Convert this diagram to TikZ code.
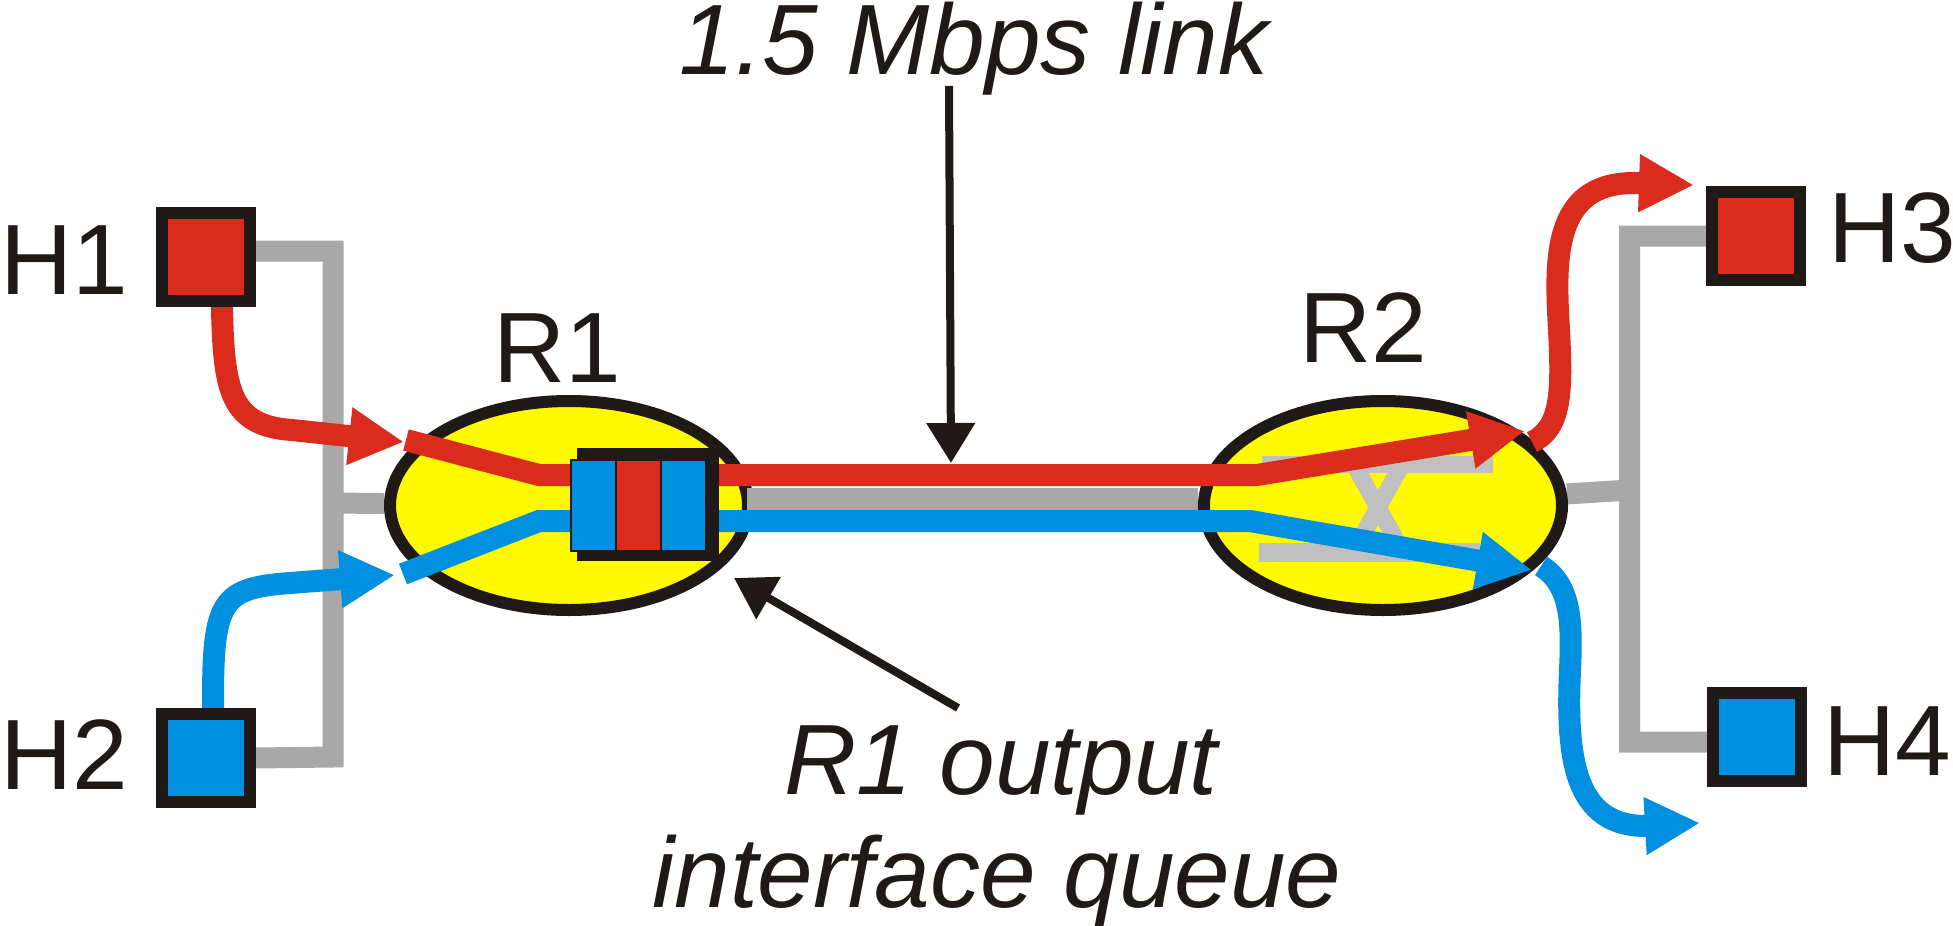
\documentclass[tikz,border=0pt]{standalone}
\usepackage{fontspec}
\setmainfont{Liberation Sans}
\usetikzlibrary{arrows.meta,shapes.geometric}
\pgfdeclarelayer{lbus}
\pgfdeclarelayer{lrouter}
\pgfdeclarelayer{lflow}
\pgfsetlayers{lbus,lrouter,lflow,main}
\definecolor{cred}{HTML}{DB2B1C}
\definecolor{cblue}{HTML}{0090DF}
\definecolor{cgray}{HTML}{A8A8A8}
\definecolor{cxgray}{HTML}{C0C0C0}
\definecolor{cyel}{HTML}{FFFA00}
\definecolor{cblk}{HTML}{1F1A17}
\begin{document}
\begin{tikzpicture}[x=0.4pt,y=-0.4pt,
  host/.style={rectangle,draw=cblk,line width=4.8pt,minimum size=35.2pt,inner sep=0pt},
  router/.style={ellipse,draw=cblk,fill=cyel,line width=4.8pt,minimum width=143.2pt,minimum height=83.6pt,inner sep=0pt},
  lbl/.style={font=\fontsize{40}{48}\selectfont,inner sep=0pt,text=cblk},
  ilbl/.style={font=\fontsize{40}{48}\selectfont\itshape,inner sep=0pt,text=cblk},
  bus/.style={cgray,line width=8.4pt},
  flowr/.style={cred,line width=8.8pt,-{Triangle[length=22pt,width=21.6pt]}},
  flowb/.style={cblue,line width=8.8pt,-{Triangle[length=22pt,width=21.6pt]}},
  ptr/.style={cblk,line width=3.2pt,-{Triangle[length=16pt,width=18.8pt]}},
  cell/.style={rectangle,draw=cblk,line width=0.6pt,minimum width=18pt,minimum height=36.4pt,inner sep=0pt}
]
\useasboundingbox (0,0) rectangle (1953,926);

% routers
\begin{pgfonlayer}{lrouter}
\node[router] (r1) at (569,505.5) {};
\node[router] (r2) at (1383,505.5) {};
% switch fabric symbol in R2
\fill[cxgray] (1262,456) rectangle (1493,473);
\fill[cxgray] (1259,543) rectangle (1480,562);
\draw[cxgray,line width=6.8pt] (1356,468) -- (1400,547) (1400,468) -- (1356,547);
% link between routers
\fill[cgray] (747,488) rectangle (1198,511);
\end{pgfonlayer}

% hosts
\node[host,fill=cred]  (h1) at (206,257) {};
\node[host,fill=cblue] (h2) at (206,758) {};
\node[host,fill=cred]  (h3) at (1756,236) {};
\node[host,fill=cblue] (h4) at (1757,737) {};

% labels
\node[lbl,anchor=base west] (h1l) at (0,294) {H1};
\node[lbl,anchor=base west] (h2l) at (0,789) {H2};
\node[lbl,anchor=base west] (h3l) at (1828,262) {H3};
\node[lbl,anchor=base west] (h4l) at (1823,775) {H4};
\node[lbl,anchor=base] (r1l) at (557,382) {R1};
\node[lbl,anchor=base] (r2l) at (1363,362) {R2};
\node[ilbl,anchor=base] (lnk) at (974,75) {1.5 Mbps link};
\node[ilbl,anchor=base] (q1l) at (1001,794) {R1 output};
\node[ilbl,anchor=base] (q2l) at (997,907) {interface queue};

% buses
\coordinate (lbt) at (333,251);
\coordinate (lbb) at (333,757);
\coordinate (lbm) at (333,503);
\coordinate (rbt) at (1629.5,236);
\coordinate (rbb) at (1629.5,742);
\coordinate (rbm) at (1629.5,490);
\begin{pgfonlayer}{lbus}
\draw[bus] ([yshift=2.4pt]h1.east) -- (lbt) -- (lbb) -- (h2.east);
\draw[bus] (lbm) -- (r1);
\draw[bus] (h3.west) -- (rbt) -- (rbb) -- ([yshift=-2pt]h4.west);
\draw[bus] (rbm) -- (r2);
\end{pgfonlayer}

% flows
\coordinate (ra) at (406,440);
\coordinate (rb) at (539,475);
\coordinate (rc) at (1257,475);
\coordinate (rd) at (1525,431);
\coordinate (ba) at (403,574);
\coordinate (bb) at (539,521);
\coordinate (bc) at (1250,521);
\coordinate (bd) at (1532,570);
\begin{pgfonlayer}{lflow}
\draw[flowr] ([xshift=6.4pt]h1.center) -- (222,310) .. controls (224,390) and (230,426) .. (292,430) -- (404,442);
\draw[flowb] ([xshift=2.8pt]h2.center) -- (213,700) .. controls (213,600) and (222,588) .. (290,583) -- (395,575);
\draw[flowr] (ra) -- (rb) -- (rc) -- (rd);
\draw[flowb] (ba) -- (bb) -- (bc) -- (bd);
\draw[flowr] (1532,442) .. controls (1562,428) and (1562,390) .. (1559,330) .. controls (1555,260) and (1552,183) .. (1634,183) -- (1694,185);
\draw[flowb] (1541,566) .. controls (1572,585) and (1572,625) .. (1570,670) .. controls (1566,760) and (1575,826) .. (1646,826) -- (1700,823);
\end{pgfonlayer}

% output queue
\node[fill=cblk,minimum width=56.8pt,minimum height=45.2pt,inner sep=0pt] (qbox) at (648,504.5) {};
\node[cell,fill=cblue] (qc1) at (593.5,505.5) {};
\node[cell,fill=cred]  (qc2) at (638.5,505.5) {};
\node[cell,fill=cblue] (qc3) at (683.5,505.5) {};

% pointers
\coordinate (lnks) at (949,86);
\coordinate (lnkt) at (951,463);
\draw[ptr] (lnks) -- (lnkt);
\coordinate (qps) at (958,708);
\coordinate (qpt) at (734,578);
\draw[ptr] (qps) -- (qpt);
\end{tikzpicture}
\end{document}
